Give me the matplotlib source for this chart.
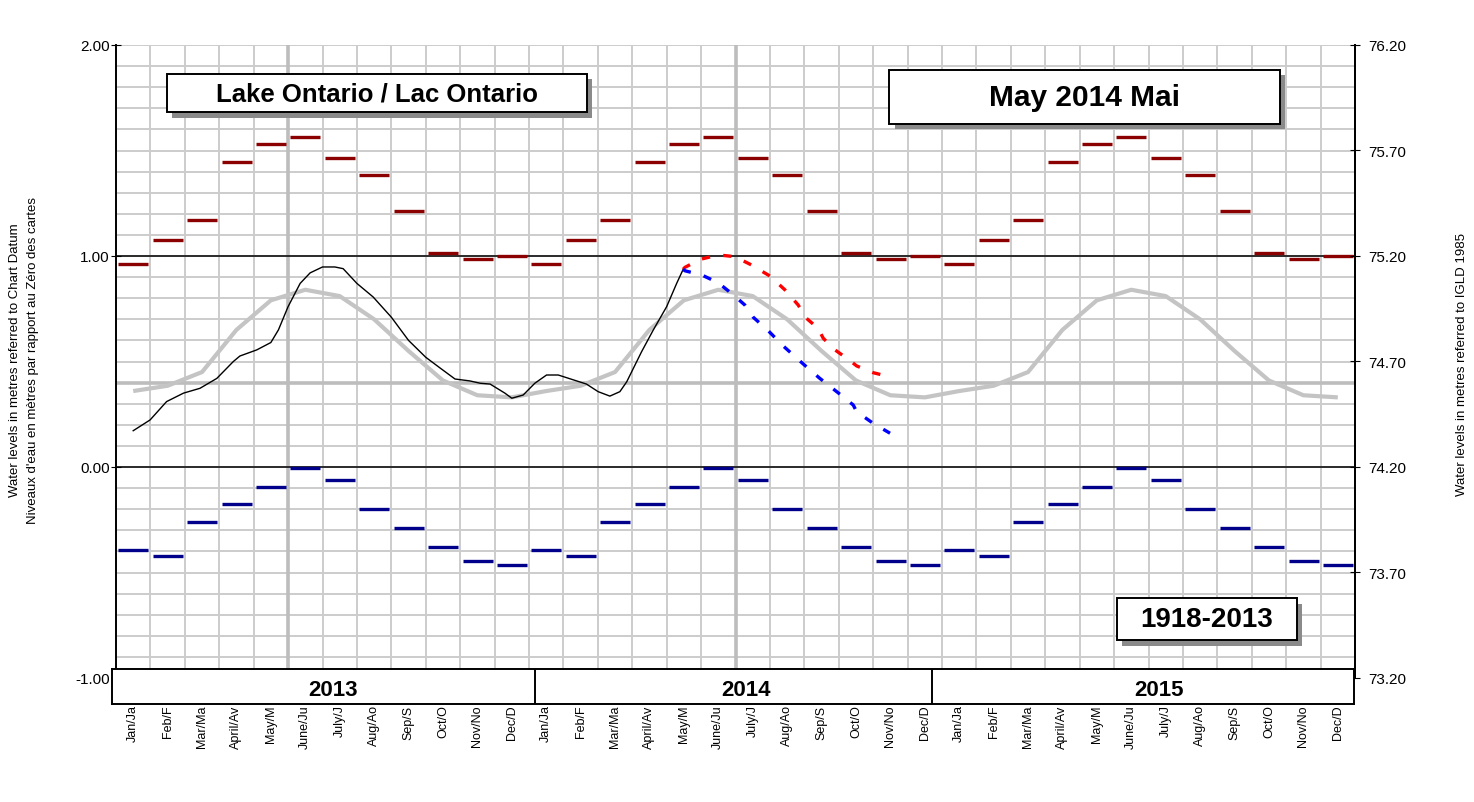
"""
Lake Ontario monthly water level chart (May 2014 outlook).
"""

import numpy as np
import matplotlib
matplotlib.use("Agg")
import matplotlib.pyplot as plt
from matplotlib.patches import Rectangle

plt.rcParams["font.family"] = ["Liberation Sans", "DejaVu Sans"]

# --- data -------------------------------------------------------------
years = ["2013", "2014", "2015"]
month_labels = ["Jan/Ja", "Feb/F", "Mar/Ma", "April/Av", "May/M", "June/Ju",
                "July/J", "Aug/Ao", "Sep/S", "Oct/O", "Nov/No", "Dec/D"]

# 1918-2013 monthly extremes (m above chart datum)
record_high = [0.962, 1.076, 1.170, 1.445, 1.530, 1.564,
               1.464, 1.384, 1.213, 1.014, 0.986, 1.000]
record_low = [-0.393, -0.420, -0.260, -0.175, -0.093, -0.005,
              -0.062, -0.200, -0.290, -0.380, -0.445, -0.465]
# long term average
long_term_avg = [0.360, 0.385, 0.450, 0.650, 0.790, 0.840,
                 0.810, 0.700, 0.550, 0.410, 0.340, 0.330]

# recorded levels (month 0 = 1 Jan 2013)
rec_month = [0.50, 0.99, 1.47, 1.96, 2.44, 2.93, 3.41, 3.60, 4.09, 4.50,
             4.72, 5.00, 5.35, 5.64, 6.00, 6.36, 6.60, 7.00, 7.47, 8.00,
             8.50, 9.00, 9.41, 9.85, 10.28, 10.58, 10.87, 11.30, 11.50, 11.83,
             12.17, 12.51, 12.85, 13.67, 14.01, 14.35, 14.64, 14.84, 15.27, 15.61,
             16.00, 16.29, 16.48]
rec_level = [0.172, 0.223, 0.310, 0.350, 0.373, 0.420, 0.500, 0.526, 0.555, 0.590,
             0.650, 0.760, 0.870, 0.920, 0.948, 0.948, 0.940, 0.870, 0.806, 0.710,
             0.600, 0.520, 0.470, 0.417, 0.408, 0.397, 0.393, 0.350, 0.326, 0.341,
             0.397, 0.436, 0.436, 0.393, 0.357, 0.336, 0.357, 0.404, 0.546, 0.649,
             0.760, 0.870, 0.937]

# outlook
hi_month = [16.48, 16.53, 16.97, 17.50, 17.98, 18.47, 19.00, 19.44, 19.82,
            20.06, 20.40, 20.55, 20.89, 21.28, 21.52, 22.00, 22.54]
hi_level = [0.937, 0.946, 0.984, 1.005, 0.997, 0.957, 0.905, 0.839, 0.768,
            0.705, 0.657, 0.610, 0.555, 0.510, 0.479, 0.447, 0.425]
lo_month = [16.48, 16.53, 17.02, 17.50, 17.94, 18.27, 18.52, 18.95, 19.39,
            19.97, 20.45, 20.98, 21.42, 21.52, 22.00, 22.49]
lo_level = [0.937, 0.930, 0.910, 0.873, 0.815, 0.768, 0.709, 0.646, 0.573,
            0.488, 0.420, 0.352, 0.294, 0.262, 0.207, 0.160]

DATUM = 74.20  # chart datum, IGLD 1985

n_months = 12 * len(years)
starts = np.arange(n_months)
centers = starts + 0.5

fig = plt.figure(figsize=(14.74, 8.03), dpi=100)
W, H = 1474, 803
ax = fig.add_axes([116 / W, 1 - 679 / H, (1355 - 116) / W, (679 - 46) / H])
ax.set_xlim(0, n_months)
ax.set_ylim(-1, 2)

# grid
grid_c = "#cccccc"
ax.vlines(np.arange(n_months + 1), -1, 2, color=grid_c, lw=1.4, zorder=1)
ax.hlines(np.arange(-10, 21) / 10, 0, n_months, color=grid_c, lw=1.4, zorder=1)
ax.vlines([5, 18], -1, 2, color="#bdbdbd", lw=2.6, zorder=1)
ax.axhline(0.4, color="#bdbdbd", lw=2.6, zorder=1)
ax.axhline(1.0, color="black", lw=1.1, zorder=2)
ax.axhline(0.0, color="black", lw=1.1, zorder=2)

# long term average
ax.plot(centers, np.tile(long_term_avg, len(years)), color="#c4c4c4",
        lw=3, zorder=3, solid_capstyle="butt")

# monthly extremes
hi = np.tile(record_high, len(years))
lo = np.tile(record_low, len(years))
ax.hlines(hi, starts + 0.07, starts + 0.94, color="#8b0000", lw=2.4, zorder=4)
ax.hlines(lo, starts + 0.07, starts + 0.94, color="#00008b", lw=2.4, zorder=4)

# recorded + outlook
ax.plot(rec_month, rec_level, color="black", lw=1.0, zorder=5)
ax.plot(hi_month, hi_level, color="#ff0000", lw=2.4, ls=(0, (2.5, 4)), zorder=5)
ax.plot(lo_month, lo_level, color="#0000ff", lw=2.4, ls=(0, (2.5, 4)), zorder=5)

# axes styling
for s in ["top", "bottom"]:
    ax.spines[s].set_visible(False)
for s in ["left", "right"]:
    ax.spines[s].set_linewidth(1.4)
ax.set_yticks([-1, 0, 1, 2])
ax.set_yticklabels([f"{v:.2f}" for v in [-1, 0, 1, 2]], fontsize=11)
ax.tick_params(axis="y", direction="inout", length=7, pad=1)
ax.set_xticks(centers)
ax.set_xticklabels(month_labels * len(years), rotation=90, fontsize=9)
ax.tick_params(axis="x", length=0, pad=19)

ax2 = ax.twinx()
ax2.set_ylim(-1 + DATUM, 2 + DATUM)
right_ticks = np.arange(-1, 2.01, 0.5) + DATUM
ax2.set_yticks(right_ticks)
ax2.set_yticklabels([f"{v:.2f}" for v in right_ticks], fontsize=11)
ax2.tick_params(axis="y", direction="inout", length=7, pad=6)
for s in ["top", "bottom", "left"]:
    ax2.spines[s].set_visible(False)
ax2.spines["right"].set_linewidth(1.4)


def label_box(x0, x1, y0, y1, text, size):
    """Framed title box with a grey drop shadow, in data coordinates."""
    dx, dy = 0.16, 0.026
    ax.add_patch(Rectangle((x0 + dx, y0 - dy), x1 - x0, y1 - y0,
                           facecolor="#8a8a8a", edgecolor="none", zorder=8))
    ax.add_patch(Rectangle((x0, y0), x1 - x0, y1 - y0, facecolor="white",
                           edgecolor="black", lw=1.4, zorder=9))
    ax.text((x0 + x1) / 2, (y0 + y1) / 2, text, fontsize=size,
            fontweight="bold", ha="center", va="center", zorder=10)


label_box(1.48, 13.68, 1.682, 1.863, "Lake Ontario / Lac Ontario", 18.5)
label_box(22.46, 33.82, 1.626, 1.882, "May 2014 Mai", 21.5)
label_box(29.08, 34.31, -0.820, -0.621, "1918-2013", 20)

# year band
band = fig.add_axes([112 / W, 1 - 705 / H, (1354 - 112) / W, 35 / H], zorder=5)
band.set_xlim(-0.116, 35.97)
band.set_ylim(0, 1)
band.set_xticks([])
band.set_yticks([])
for s in band.spines.values():
    s.set_linewidth(1.4)
band.vlines([12.17, 23.71], 0, 1, color="black", lw=1.4)
for i, yr in enumerate(years):
    band.text(12 * i + 6.3, 0.42, yr, fontsize=16, fontweight="bold",
              ha="center", va="center")

# axis titles
fig.text(15 / W, 1 - 360 / H, "Water levels in metres referred to Chart Datum",
         rotation=90, ha="center", va="center", fontsize=9.5)
fig.text(33 / W, 1 - 360 / H,
         "Niveaux d'eau en mètres par rapport au Zéro des cartes",
         rotation=90, ha="center", va="center", fontsize=9.5)
fig.text(1462 / W, 1 - 365 / H, "Water levels in metres referred to IGLD 1985",
         rotation=90, ha="center", va="center", fontsize=9.5)

fig.savefig("out.png", dpi=100, facecolor="white")
